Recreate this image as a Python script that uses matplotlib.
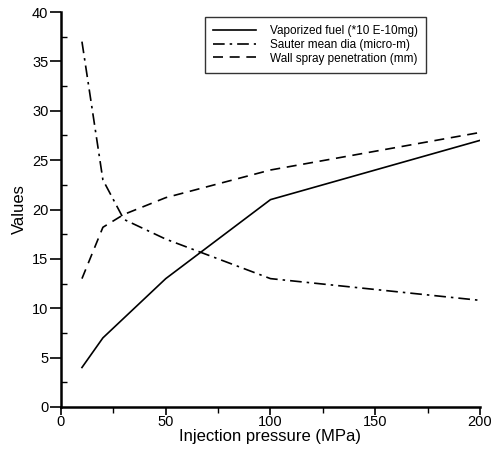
import numpy as np
import matplotlib
matplotlib.use("Agg")
import matplotlib.pyplot as plt
from matplotlib.ticker import MultipleLocator

plt.rcParams.update({"font.family": ["Liberation Sans", "DejaVu Sans"]})

# injection pressure (MPa) and the three measured quantities
p_fuel = [10, 20, 50, 100, 200]
vap_fuel = [4, 7, 13, 21, 27]
p_smd = [10, 20, 30, 50, 100, 200]
sauter = [37, 23, 19, 17, 13, 10.8]
p_wall = [10, 20, 30, 50, 100, 200]
wall_pen = [13, 18.2, 19.5, 21.2, 24, 27.8]

fig = plt.figure(figsize=(5.02, 4.53), dpi=100)
ax = fig.add_axes([61 / 502, 1 - 407 / 453, 419 / 502, 395 / 453])

ax.plot(p_fuel, vap_fuel, "-", color="black", lw=1.2,
        label="Vaporized fuel (*10 E-10mg)")
ax.plot(p_smd, sauter, color="black", lw=1.2, dashes=(7, 3, 1.5, 3),
        label="Sauter mean dia (micro-m)")
ax.plot(p_wall, wall_pen, color="black", lw=1.2, dashes=(6, 4),
        label="Wall spray penetration (mm)")

ax.set_xlim(0, 200)
ax.set_ylim(0, 40)
ax.xaxis.set_major_locator(MultipleLocator(50))
ax.xaxis.set_minor_locator(MultipleLocator(25))
ax.yaxis.set_major_locator(MultipleLocator(5))
ax.yaxis.set_minor_locator(MultipleLocator(2.5))
ax.tick_params(axis="x", which="major", direction="out", length=6, width=1.2, labelsize=10.5, pad=0)
ax.tick_params(axis="x", which="minor", direction="out", length=4, width=1.0)
ax.tick_params(axis="y", which="major", direction="out", length=8, width=1.2, labelsize=10.5, pad=1)
ax.tick_params(axis="y", which="minor", direction="in", length=4, width=1.0)

for s in ("top", "right"):
    ax.spines[s].set_visible(False)
for s in ("left", "bottom"):
    ax.spines[s].set_linewidth(1.8)

ax.set_xlabel("Injection pressure (MPa)", fontsize=12, labelpad=0)
ax.set_ylabel("Values", fontsize=12, labelpad=4)

leg = ax.legend(loc="upper left", bbox_to_anchor=(0.33, 1.003), fontsize=8.5,
                frameon=True, fancybox=False, edgecolor="black",
                handlelength=3.6, handletextpad=1.2, borderpad=0.7,
                labelspacing=0.15)
leg.get_frame().set_linewidth(1.0)

fig.savefig("out.png", dpi=100)
